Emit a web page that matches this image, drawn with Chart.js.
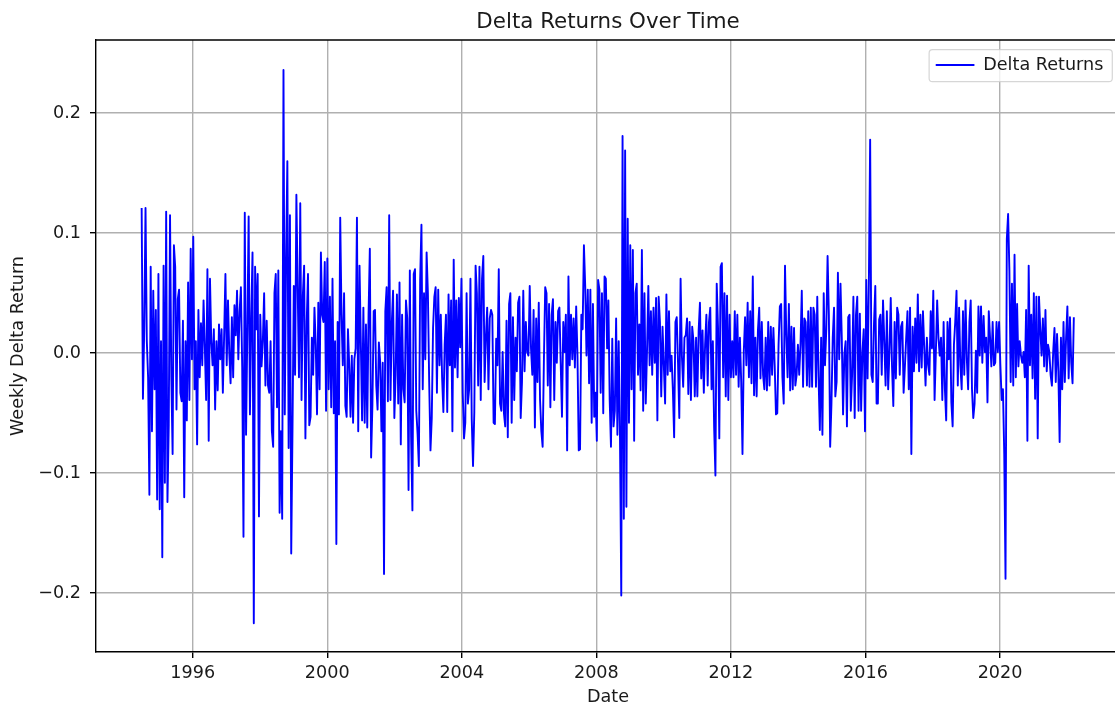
<!DOCTYPE html>
<html><head><meta charset="utf-8">
<script src="https://cdn.jsdelivr.net/npm/chart.js@4"></script>
<style>
html,body{margin:0;padding:0;background:#fff;overflow:hidden;}
#wrap{width:1115px;height:706px;overflow:hidden;position:relative;}
#box{width:1125px;height:706px;position:absolute;left:0;top:0;}
</style></head><body>
<div id="wrap"><div id="box"><canvas id="c"></canvas></div></div>
<script>
const chartTitle = 'Delta Returns Over Time';
const seriesLabel = 'Delta Returns';
const xAxisLabel = 'Date';
const yAxisLabel = 'Weekly Delta Return';
const startDate = '1994-06-26';
const stepDays = 14;
const xTicks = [1996, 2000, 2004, 2008, 2012, 2016, 2020];
const yTicks = [-0.2, -0.1, 0.0, 0.1, 0.2];

const r1994_1997 = [0.121,-0.038,0.02,0.121,0.01,-0.02,-0.118,0.072,-0.065,0.052,
-0.03,0.036,-0.122,0.066,-0.13,0.01,-0.17,0.073,-0.108,0.118,
-0.124,-0.06,0.115,-0.02,-0.084,0.09,0.072,-0.047,0.045,0.053,
-0.033,-0.04,0.027,-0.12,0.01,
-0.056,0.059,-0.039,0.087,-0.005,0.097,-0.03,0.01,-0.076,0.036,
-0.02,0.025,-0.01,0.044,0.005,-0.039,0.07,-0.073,0.062,0.01,
-0.01,0.02,-0.047,0.01,-0.031,0.024,-0.005,0.02,-0.033,0.015,
0.066,-0.01,0.044,0.0,-0.025,0.03,-0.02,0.04,0.015,0.052,
-0.005,0.035,0.055,-0.011,-0.153,0.117,-0.068,0.02,0.114,-0.051,
0.03,0.084,-0.225];
const r1997_2001 = [0.072,0.02,0.066,-0.136,0.032,-0.011,0.01,0.05,-0.027,0.027,
-0.027,-0.033,0.01,-0.065,-0.078,0.05,0.066,-0.045,0.069,-0.133,
-0.065,-0.138,0.236,-0.051,0.078,0.16,-0.079,0.115,-0.167,-0.062,
0.056,-0.018,0.132,0.055,-0.02,0.125,-0.039,0.048,0.073,-0.071,
0.026,0.066,-0.06,-0.053,0.013,-0.018,0.038,0.007,-0.051,0.042,
-0.03,0.084,0.032,0.026,0.076,-0.048,0.079,-0.03,0.047,-0.045,
0.062,-0.05,0.01,-0.159,0.026,-0.051,0.113,0.032,-0.01,0.05,
-0.044,-0.053,0.02,-0.01,-0.053,-0.002,-0.058,-0.005,0.004,0.113,
-0.065,0.073,0.01,-0.056,0.038,-0.058,0.024,-0.062,0.032,0.087,
-0.087,-0.043,0.035];
const r2001_2004 = [0.036,-0.027,-0.047,0.009,-0.007,-0.065,-0.008,-0.184,0.035,0.055,
-0.04,0.115,-0.039,0.025,0.052,-0.054,-0.018,0.049,-0.042,0.059,
-0.076,0.032,-0.03,-0.041,0.044,0.029,-0.114,0.069,-0.07,-0.131,
0.066,0.07,-0.048,-0.067,-0.094,0.061,0.107,-0.03,0.05,-0.005,
0.084,0.05,-0.024,-0.081,-0.054,0.021,0.047,0.055,-0.033,0.053,
-0.01,0.032,-0.02,-0.049,0.007,0.032,-0.049,0.049,-0.01,0.044,
-0.065,0.078,-0.012,0.044,-0.02,0.046,0.005,0.062,-0.033,-0.071,
-0.058,0.05,-0.042,-0.03,0.062,-0.055,-0.094,-0.049,0.073,0.05,
-0.027,0.072,-0.039,0.062,0.081,-0.024,0.013,0.038,-0.03,0.029,
0.036,0.032,-0.058];
const r2005_2008 = [-0.059,0.012,-0.01,0.07,-0.042,-0.048,0.001,-0.05,-0.061,0.027,
-0.07,0.041,0.05,-0.058,0.03,-0.039,0.013,-0.015,0.042,0.047,
-0.054,-0.024,0.052,-0.015,0.026,0.001,-0.002,0.056,0.004,-0.018,
0.036,-0.062,0.029,-0.024,0.042,-0.039,-0.065,-0.078,-0.005,0.055,
0.05,-0.027,0.041,-0.045,0.032,0.045,-0.039,0.026,-0.008,0.035,
0.038,-0.008,-0.053,0.026,0.001,0.032,-0.081,0.064,-0.01,0.032,
-0.005,0.029,-0.012,0.039,-0.002,-0.081,-0.08,0.032,0.02,0.09,
0.056,-0.002,0.053,-0.025,0.053,-0.058,0.041,-0.053,-0.033,-0.073,
0.061,0.053,-0.033,0.05,-0.05,0.064,0.062,0.004,0.044,-0.039,
-0.078,0.012,-0.061];
const r2008_2012 = [-0.048,0.029,-0.068,0.01,-0.07,-0.202,0.181,-0.138,0.169,-0.128,
0.112,-0.058,0.09,-0.03,0.086,-0.073,0.05,0.058,-0.018,0.024,
-0.031,0.086,-0.048,0.05,-0.042,0.003,0.056,-0.01,0.035,-0.018,
0.038,-0.008,0.046,-0.056,0.047,0.026,-0.036,0.022,-0.01,-0.042,
0.049,-0.018,0.035,-0.015,-0.002,-0.03,-0.07,0.026,0.03,-0.008,
-0.054,0.062,-0.002,-0.028,0.013,0.015,0.029,-0.034,0.026,-0.039,
0.022,0.01,-0.036,0.013,-0.036,0.019,0.042,-0.021,0.019,-0.033,
0.007,0.032,-0.027,0.026,0.038,-0.03,0.01,-0.062,-0.102,0.058,
0.022,-0.071,0.072,0.075,-0.02,0.05,-0.036,0.048,-0.039,0.032,
-0.02,0.01,-0.02];
const r2012_2015 = [0.035,-0.018,0.032,-0.028,0.013,-0.024,-0.084,0.001,0.03,-0.01,
0.042,-0.02,0.035,-0.025,0.064,-0.035,0.013,-0.036,0.019,0.038,
-0.021,0.026,-0.018,-0.03,0.013,-0.031,0.026,-0.027,0.022,-0.018,
0.021,-0.01,-0.051,-0.05,0.007,0.039,0.041,-0.02,-0.042,0.073,
0.015,-0.02,0.041,-0.031,0.022,-0.03,0.021,-0.027,-0.018,0.007,
-0.018,0.007,0.052,-0.028,0.029,0.026,-0.027,0.035,-0.028,0.038,
-0.028,0.038,0.032,-0.028,0.047,-0.02,-0.064,0.013,-0.068,0.05,
-0.01,0.02,0.081,0.032,-0.078,-0.042,0.013,0.038,-0.036,-0.024,
0.067,-0.005,0.058,0.013,-0.051,-0.001,0.01,-0.061,0.03,0.032,
-0.048,-0.018,0.047];
const r2015_2019 = [-0.054,0.032,0.047,-0.048,0.033,-0.048,0.001,0.02,-0.065,0.061,
-0.021,0.058,0.178,-0.018,-0.024,0.025,0.056,-0.042,-0.042,0.028,
0.032,-0.018,0.044,0.01,-0.027,0.035,-0.03,0.001,0.046,-0.011,
-0.044,0.026,-0.021,0.038,0.032,-0.018,0.022,0.026,-0.033,-0.011,
0.013,0.035,-0.03,0.038,-0.084,0.022,-0.015,0.029,-0.008,0.049,
-0.015,0.032,-0.012,0.035,0.004,-0.027,0.013,-0.01,-0.018,0.035,
0.004,0.052,-0.039,0.001,0.044,0.013,-0.002,0.013,-0.039,0.026,
-0.03,-0.056,0.026,-0.005,0.029,-0.041,-0.061,0.007,0.026,0.052,
-0.027,0.038,-0.01,-0.03,0.035,-0.018,0.044,-0.005,-0.03,0.026,
0.044,-0.03,-0.054];
const r2019_2022 = [-0.042,0.002,-0.033,0.039,-0.002,0.039,-0.008,0.031,0.001,0.013,
-0.041,0.035,0.013,-0.011,0.026,-0.01,-0.008,0.026,0.001,0.026,
-0.01,-0.039,-0.03,-0.084,-0.188,0.095,0.116,0.069,-0.024,0.058,
-0.027,0.082,-0.02,0.041,-0.011,0.01,-0.002,-0.008,0.001,-0.02,
0.036,-0.073,0.073,-0.01,0.032,-0.021,0.05,-0.038,0.047,-0.071,
0.047,0.02,-0.002,0.029,-0.011,0.036,-0.015,0.007,0.001,-0.018,
-0.027,0.001,0.021,-0.024,0.016,-0.015,-0.074,0.013,-0.03,0.026,
-0.024,0.013,0.039,-0.021,0.03,-0.008,-0.025,0.03];

// ---- build ----
const returns = [].concat(r1994_1997, r1997_2001, r2001_2004, r2005_2008,
                          r2008_2012, r2012_2015, r2015_2019, r2019_2022);
const t0 = Date.parse(startDate + 'T00:00:00Z');
function decYear(ms) {
  const d = new Date(ms), y = d.getUTCFullYear();
  const s = Date.UTC(y, 0, 1), e = Date.UTC(y + 1, 0, 1);
  return y + (ms - s) / (e - s);
}
const points = returns.map((v, i) => ({ x: decYear(t0 + i * stepDays * 86400000), y: v }));

const FONT = "'DejaVu Sans', 'Liberation Sans', sans-serif";
const TXT = '#1a1a1a';
const TICK_FS = 17.6;
const LEG_FS = 17.6;
const LEG_LINE = 38.7;

const mplFrame = {
  id: 'mplFrame',
  beforeDraw(chart) {
    const lg = chart.legend;
    if (!lg || lg.__patched) return;
    lg.__patched = true;
    const orig = lg.draw;
    lg.draw = function (...args) {
      const a = chart.chartArea, c = this.ctx;
      const pad = this.options.labels.padding;
      c.save();
      c.font = LEG_FS + 'px ' + FONT;
      const tw = c.measureText(seriesLabel).width;
      c.restore();
      const textEnd = a.right - 16.7;
      const lineStart = textEnd - tw - (LEG_LINE + LEG_FS / 2);
      this.left = lineStart - pad;
      this.top = a.top + 25 - LEG_FS / 2 - pad;
      this.right = a.right;
      this.bottom = this.top + 60;
      this.width = this.right - this.left;
      this.height = this.bottom - this.top;
      const bx = lineStart - 6.6, by = a.top + 9.7, bw = (a.right - 7.7) - bx, bh = 32, r = 3.5;
      c.save();
      c.beginPath();
      c.moveTo(bx + r, by);
      c.lineTo(bx + bw - r, by); c.arcTo(bx + bw, by, bx + bw, by + r, r);
      c.lineTo(bx + bw, by + bh - r); c.arcTo(bx + bw, by + bh, bx + bw - r, by + bh, r);
      c.lineTo(bx + r, by + bh); c.arcTo(bx, by + bh, bx, by + bh - r, r);
      c.lineTo(bx, by + r); c.arcTo(bx, by, bx + r, by, r);
      c.closePath();
      c.fillStyle = 'rgba(255,255,255,0.8)';
      c.fill();
      c.strokeStyle = 'rgba(204,204,204,0.8)';
      c.lineWidth = 1.2;
      c.stroke();
      c.restore();
      return orig.apply(this, args);
    };
  },
  afterDatasetsDraw(chart) {
    const { ctx, chartArea: a } = chart;
    ctx.save();
    ctx.strokeStyle = '#000';
    ctx.lineWidth = 1.4;
    ctx.beginPath();
    ctx.moveTo(a.left - 0.7, a.top);
    ctx.lineTo(a.right, a.top);
    ctx.lineTo(a.right, a.bottom);
    ctx.stroke();
    ctx.restore();
  }
};

new Chart(document.getElementById('c'), {
  type: 'line',
  data: {
    datasets: [{
      label: seriesLabel,
      data: points,
      borderColor: '#0000ff',
      backgroundColor: '#0000ff',
      borderWidth: 1.9,
      pointRadius: 0,
      tension: 0,
      fill: false,
      borderJoinStyle: 'round',
      borderCapStyle: 'butt'
    }]
  },
  options: {
    responsive: true,
    maintainAspectRatio: false,
    animation: false,
    devicePixelRatio: 1,
    events: [],
    layout: { padding: { left: 0, right: 5, top: 0, bottom: 0 } },
    plugins: {
      title: {
        display: true, text: chartTitle, fullSize: false, color: TXT,
        font: { family: FONT, size: 21.4, weight: 'normal', lineHeight: 1.2 },
        padding: { top: 9.6, bottom: 4.7 }
      },
      legend: {
        display: true, position: 'chartArea', align: 'start',
        labels: {
          usePointStyle: true, pointStyle: 'line', pointStyleWidth: LEG_LINE,
          boxHeight: LEG_FS, color: TXT, padding: 10,
          font: { family: FONT, size: LEG_FS }
        }
      },
      tooltip: { enabled: false }
    },
    scales: {
      x: {
        type: 'linear', min: 1993.125, max: 2023.567,
        afterBuildTicks: s => { s.ticks = xTicks.map(v => ({ value: v })); },
        afterFit: s => { s.height = 54; },
        ticks: {
          autoSkip: false, maxRotation: 0, minRotation: 0, padding: 4.7, color: TXT,
          font: { family: FONT, size: TICK_FS }, callback: v => String(v)
        },
        grid: { color: '#b0b0b0', lineWidth: 1.4, drawTicks: true, tickLength: 6, tickColor: '#000', tickWidth: 1.4 },
        border: { display: true, color: '#000', width: 1.4 },
        title: { display: true, text: xAxisLabel, color: TXT, font: { family: FONT, size: TICK_FS, lineHeight: 1 }, padding: { top: 0, bottom: 0 } }
      },
      y: {
        type: 'linear', min: -0.249, max: 0.261,
        afterBuildTicks: s => { s.ticks = yTicks.map(v => ({ value: v })); },
        afterFit: s => { s.width = 96; },
        ticks: {
          padding: 9, color: TXT, font: { family: FONT, size: TICK_FS },
          callback: v => (v < 0 ? '\u2212' : '') + Math.abs(v).toFixed(1)
        },
        grid: { color: '#b0b0b0', lineWidth: 1.4, drawTicks: true, tickLength: 6, tickColor: '#000', tickWidth: 1.4 },
        border: { display: true, color: '#000', width: 1.4 },
        title: { display: true, text: yAxisLabel, color: TXT, font: { family: FONT, size: TICK_FS, lineHeight: 1 }, padding: { top: 10, bottom: 0 } }
      }
    }
  },
  plugins: [mplFrame]
});
</script></body></html>
